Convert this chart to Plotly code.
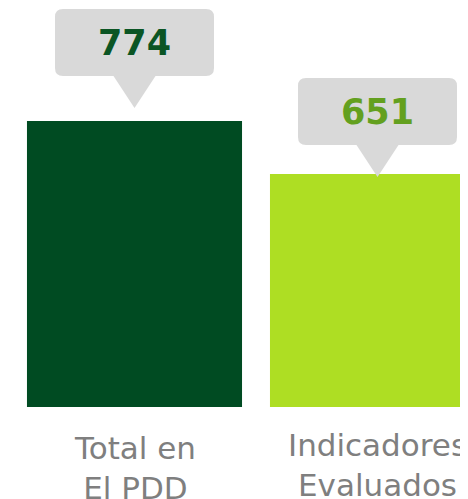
import plotly.graph_objects as go

# ---- data ----
categories = ["Total en<br>El PDD", "Indicadores<br>Evaluados"]
values = [774, 651]
value_labels = ["774", "651"]

# ---- style ----
bar_colors = ["#004b22", "#aede23"]
number_colors = ["#0b5524", "#63a01f"]
callout_color = "#d9d9d9"
label_color = "#7f7f7f"
tip_gap = [13, -3]          # px between bar top and callout tip
label_shift = [-21, -18]    # px below plot bottom
NUM_FONT = "DejaVu Sans"
LAB_FONT = "DejaVu Sans"

fig = go.Figure()
fig.add_trace(go.Bar(
    x=list(range(len(values))), y=values,
    marker=dict(color=bar_colors, line=dict(width=0)),
    width=0.885, hoverinfo="skip",
))

W, TRI_W, TRI_H, BOX_H, R = 159, 21, 32, 67, 8
shapes, annotations = [], []
for i, v in enumerate(values):
    g = tip_gap[i]
    b = g + TRI_H
    t = b + BOX_H
    hw = W / 2
    path = (f"M 0,{g} L {-TRI_W},{b} L {-hw + R},{b} Q {-hw},{b} {-hw},{b + R} "
            f"L {-hw},{t - R} Q {-hw},{t} {-hw + R},{t} L {hw - R},{t} Q {hw},{t} {hw},{t - R} "
            f"L {hw},{b + R} Q {hw},{b} {hw - R},{b} L {TRI_W},{b} Z")
    shapes.append(dict(type="path", xref="x", yref="y", xsizemode="pixel", ysizemode="pixel",
                       xanchor=i, yanchor=v, path=path, fillcolor=callout_color,
                       line=dict(width=0), layer="above"))
    annotations.append(dict(x=i, y=v, xref="x", yref="y", text=f"<b>{value_labels[i]}</b>",
                            showarrow=False, yshift=b + BOX_H / 2, yanchor="middle",
                            font=dict(family=NUM_FONT, size=35, color=number_colors[i])))
    annotations.append(dict(x=i, y=0, xref="x", yref="paper", text=categories[i],
                            showarrow=False, yanchor="top", yshift=label_shift[i],
                            font=dict(family=LAB_FONT, size=31, color=label_color)))

PX_PER_CAT = 243
fig.update_layout(
    width=468, height=499,
    margin=dict(l=5, r=0, t=0, b=100),
    paper_bgcolor="white", plot_bgcolor="white",
    showlegend=False,
    xaxis=dict(range=[-0.5, -0.5 + 463 / PX_PER_CAT], visible=False, fixedrange=True),
    yaxis=dict(range=[110.3, 1036.3], visible=False, fixedrange=True),
    shapes=shapes, annotations=annotations,
)
fig.write_html("out.html")
